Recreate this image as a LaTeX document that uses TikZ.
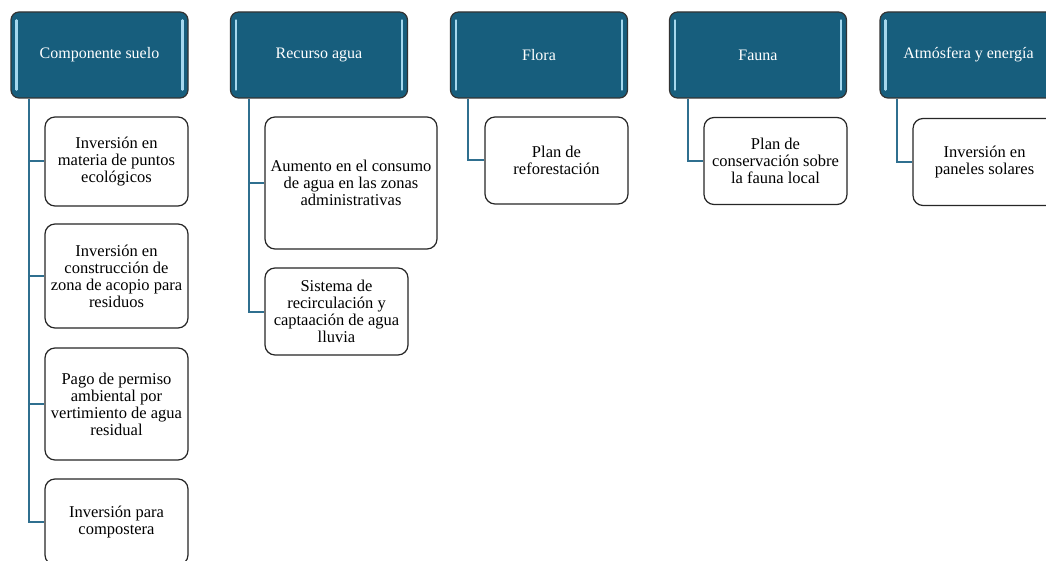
\documentclass[tikz,border=0pt]{standalone}
\usepackage{fontspec}
\setmainfont{Liberation Serif}
\definecolor{headblue}{HTML}{175E7D}
\definecolor{linkblue}{HTML}{2F6F8F}
\definecolor{glossblue}{HTML}{A6D8EE}

\begin{document}
\begin{tikzpicture}[x=1pt, y=-1pt,
  head/.style={draw=black!80, line width=1.2pt, fill=headblue, rounded corners=8pt,
    minimum width=177pt, minimum height=86pt, text=white, font=\fontsize{16}{17}\selectfont},
  item/.style={draw=black!85, line width=1.2pt, fill=white, rounded corners=10pt,
    minimum width=143pt, align=center, font=\fontsize{16.5}{17}\selectfont},
  link/.style={draw=linkblue, line width=2pt},
  gloss/.style={draw=glossblue, line width=2.5pt, line cap=round}]
  \clip (0,0) rectangle (1046,561);

  % Headers
  \node[head] (suelo) at (99.5, 55) {Componente suelo};
  \node[head] (agua)  at (319, 55)  {Recurso agua};
  \node[head] (flora) at (539, 55)  {Flora};
  \node[head] (fauna) at (758, 55)  {Fauna};
  \node[head] (atmos) at (968.5, 55) {Atmósfera y energía};

  % Gloss on the headers
  \foreach \h in {suelo, agua, flora, fauna, atmos} {
    \draw[gloss] ([xshift=6pt, yshift=-9pt]\h.north west) -- ([xshift=6pt, yshift=9pt]\h.south west);
    \draw[gloss] ([xshift=-6pt, yshift=-9pt]\h.north east) -- ([xshift=-6pt, yshift=9pt]\h.south east);
  }

  % Items
  \node[item, minimum height=89pt]  (s1) at (116.5, 161.5) {Inversión en\\materia de puntos\\ecológicos};
  \node[item, minimum height=104pt] (s2) at (116.5, 276)   {Inversión en\\construcción de\\zona de acopio para\\residuos};
  \node[item, minimum height=112pt] (s3) at (116.5, 404)   {Pago de permiso\\ambiental por\\vertimiento de agua\\residual};
  \node[item, minimum height=86pt]  (s4) at (116.5, 522)   {Inversión para\\compostera};

  \node[item, minimum width=172pt, minimum height=132pt] (a1) at (351, 183) {Aumento en el consumo\\de agua en las zonas\\administrativas};
  \node[item, minimum height=87pt] (a2) at (336.5, 311.5) {Sistema de\\recirculación y\\captaación de agua\\lluvia};

  \node[item, minimum height=87pt] (f1) at (556.5, 160.5) {Plan de\\reforestación};
  \node[item, minimum height=87pt] (n1) at (775.5, 161)   {Plan de\\conservación sobre\\la fauna local};
  \node[item, minimum height=87pt] (e1) at (984.5, 162)   {Inversión en\\paneles solares};

  % Links
  \foreach \c in {s1, s2, s3, s4}
    \draw[link] ([xshift=19pt]suelo.south west) |- (\c.west);
  \foreach \c in {a1, a2}
    \draw[link] ([xshift=19pt]agua.south west) |- (\c.west);
  \draw[link] ([xshift=18pt]flora.south west) |- (f1.west);
  \draw[link] ([xshift=19pt]fauna.south west) |- (n1.west);
  \draw[link] ([xshift=18pt]atmos.south west) |- (e1.west);
\end{tikzpicture}
\end{document}
